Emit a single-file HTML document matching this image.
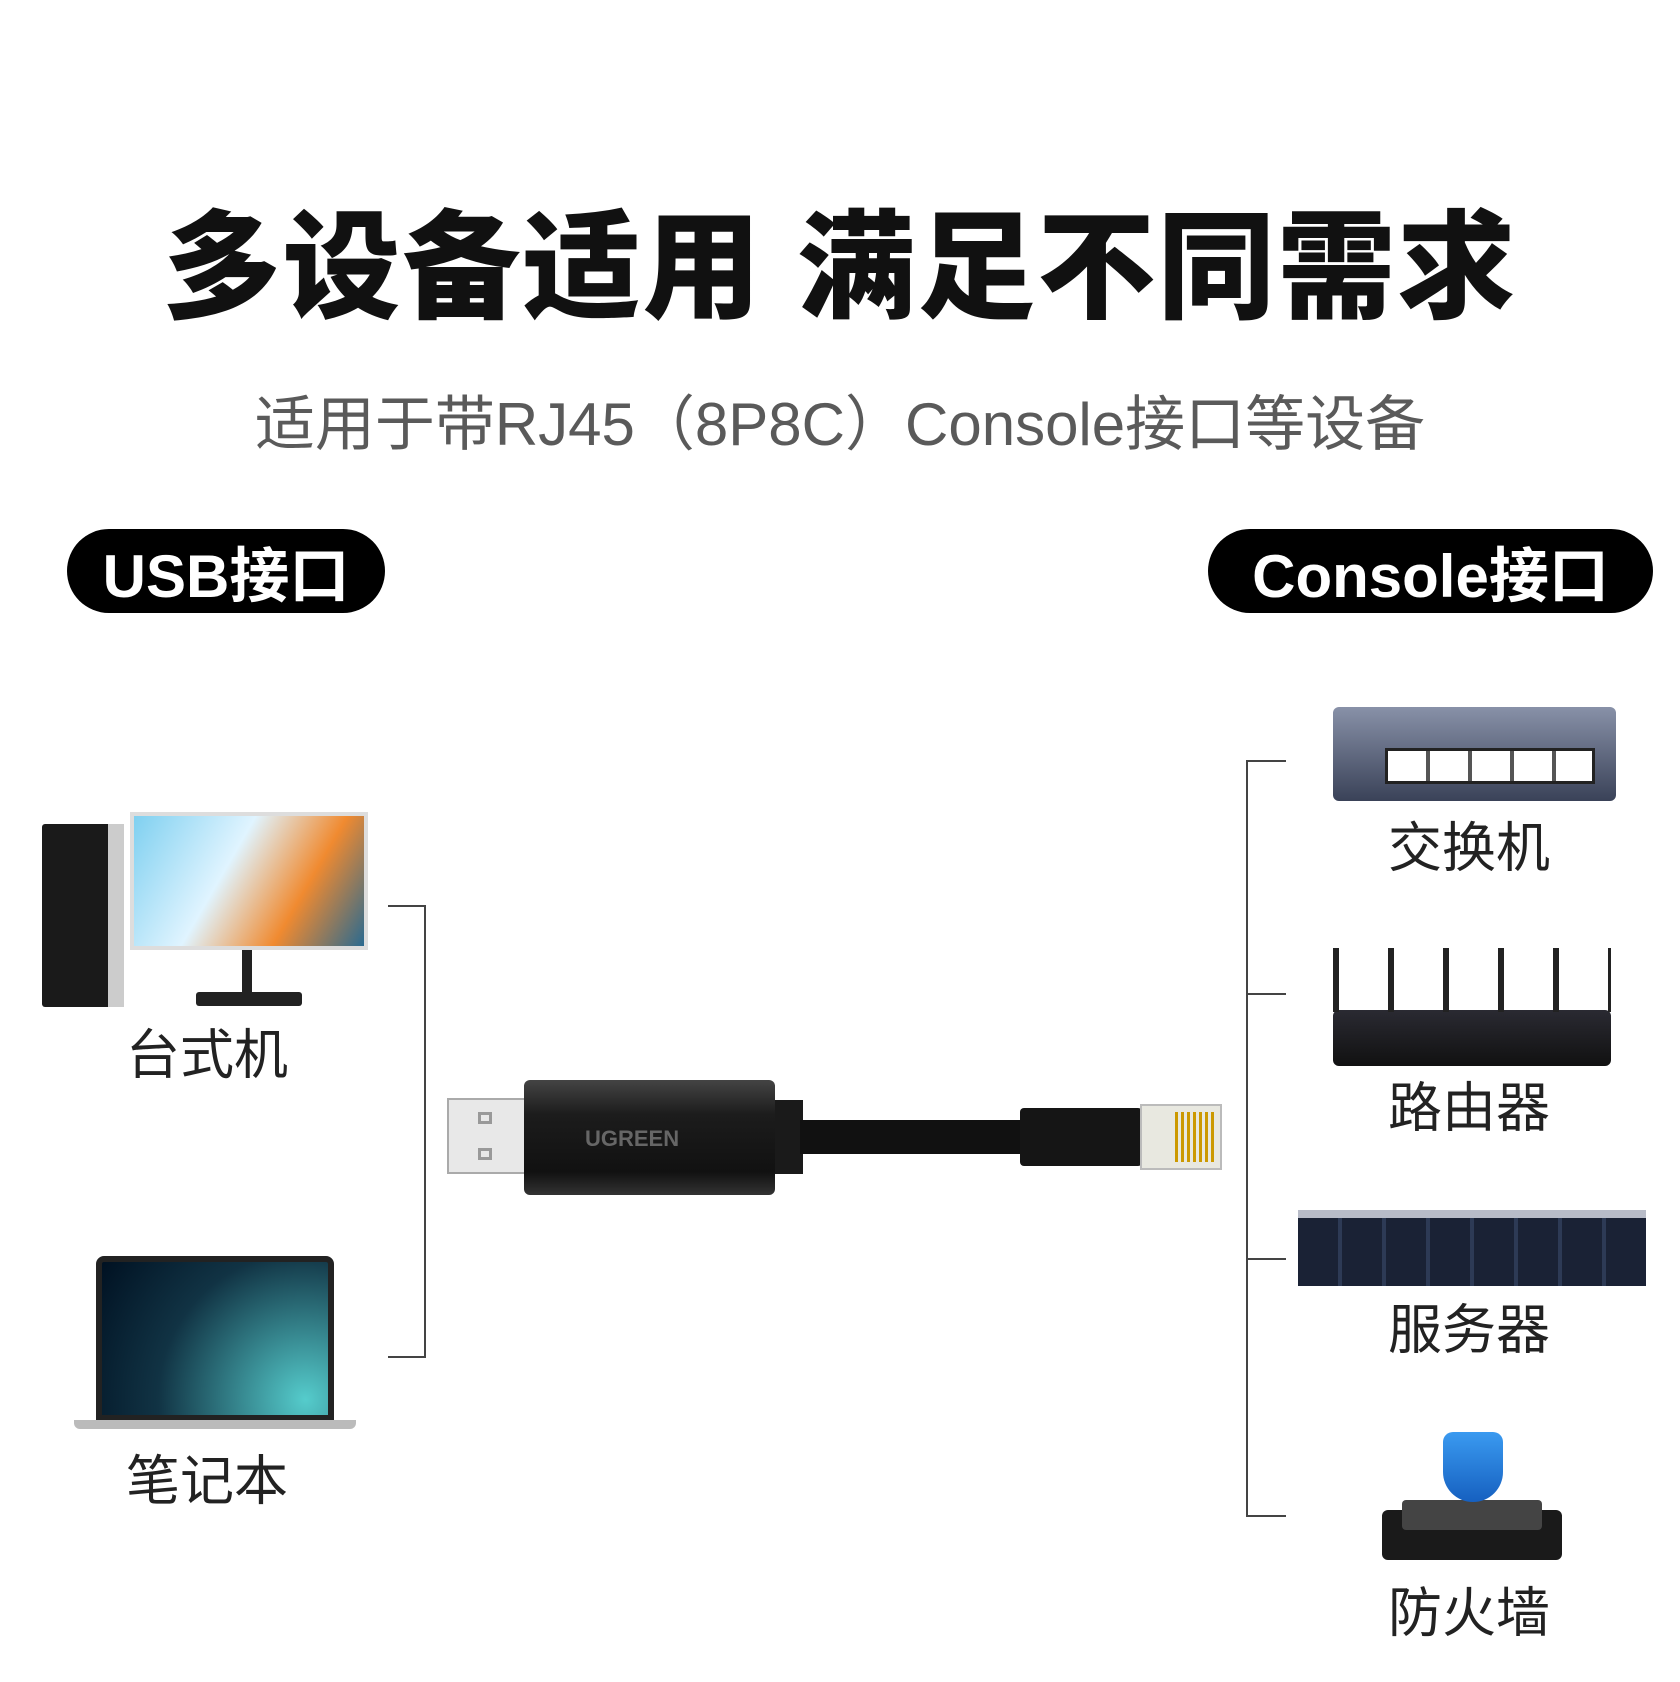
<!DOCTYPE html>
<html><head><meta charset="utf-8"><style>
*{margin:0;padding:0;box-sizing:border-box}
body{width:1680px;height:1682px;background:#fff;position:relative;overflow:hidden;font-family:"Liberation Sans","Noto Sans CJK SC",sans-serif}
.a{position:absolute}
.t{position:absolute;left:0;width:1680px;text-align:center}
.pill{position:absolute;background:#000;color:#fff;border-radius:42px;font-weight:bold;font-size:60px;display:flex;align-items:center;justify-content:center}
.lab{position:absolute;font-size:54px;color:#222;transform:translate(-50%,-50%);white-space:nowrap}
.ln{position:absolute;background:#444}
</style></head><body>
<div class="t" style="top:172px;font-size:118px;font-weight:900;color:#111;letter-spacing:2px">多设备适用 满足不同需求</div>
<div class="t" style="top:376px;font-size:60px;color:#5a5a5a">适用于带RJ45（8P8C）Console接口等设备</div>
<div class="pill" style="left:67px;top:529px;width:318px;height:84px">USB接口</div>
<div class="pill" style="left:1208px;top:529px;width:445px;height:84px">Console接口</div>

<div class="ln" style="left:424px;top:905px;width:2px;height:453px"></div>
<div class="ln" style="left:388px;top:905px;width:38px;height:2px"></div>
<div class="ln" style="left:388px;top:1356px;width:38px;height:2px"></div>
<div class="ln" style="left:1246px;top:760px;width:2px;height:757px"></div>
<div class="ln" style="left:1246px;top:760px;width:40px;height:2px"></div>
<div class="ln" style="left:1246px;top:993px;width:40px;height:2px"></div>
<div class="ln" style="left:1246px;top:1258px;width:40px;height:2px"></div>
<div class="ln" style="left:1246px;top:1515px;width:40px;height:2px"></div>

<div class="a" style="left:42px;top:824px;width:82px;height:183px;background:#1a1a1a;border-radius:3px"></div>
<div class="a" style="left:108px;top:824px;width:16px;height:183px;background:#ccc"></div>
<div class="a" style="left:130px;top:812px;width:238px;height:138px;background:linear-gradient(120deg,#7fd0f0,#e0f4ff 40%,#f08a30 70%,#2a6a90);border:4px solid #ddd"></div>
<div class="a" style="left:242px;top:950px;width:10px;height:42px;background:#222"></div>
<div class="a" style="left:196px;top:992px;width:106px;height:14px;background:#222;border-radius:3px"></div>
<div class="lab" style="left:207px;top:1050px">台式机</div>

<div class="a" style="left:96px;top:1256px;width:238px;height:165px;background:radial-gradient(circle at 90% 90%,#5cc,#134 60%,#012);border:6px solid #222;border-radius:8px 8px 0 0"></div>
<div class="a" style="left:74px;top:1420px;width:282px;height:9px;background:#bbb;border-radius:0 0 6px 6px"></div>
<div class="lab" style="left:207px;top:1476px">笔记本</div>

<div class="a" style="left:447px;top:1098px;width:80px;height:76px;background:#e8e8e8;border:2px solid #aaa"></div>
<div class="a" style="left:478px;top:1112px;width:14px;height:12px;border:3px solid #999"></div>
<div class="a" style="left:478px;top:1148px;width:14px;height:12px;border:3px solid #999"></div>
<div class="a" style="left:524px;top:1080px;width:251px;height:115px;background:linear-gradient(#444,#1c1c1c 30%,#111 80%,#333);border-radius:6px"></div>
<div class="a" style="left:585px;top:1126px;font-size:22px;font-weight:bold;color:#666">UGREEN</div>
<div class="a" style="left:775px;top:1100px;width:28px;height:74px;background:#1a1a1a"></div>
<div class="a" style="left:800px;top:1120px;width:225px;height:34px;background:#111"></div>
<div class="a" style="left:1020px;top:1108px;width:122px;height:58px;background:#151515;border-radius:4px"></div>
<div class="a" style="left:1140px;top:1104px;width:82px;height:66px;background:#e8e8e0;border:2px solid #bbb"></div>
<div class="a" style="left:1175px;top:1112px;width:40px;height:50px;background:repeating-linear-gradient(90deg,#c90 0 3px,transparent 3px 6px)"></div>

<div class="a" style="left:1333px;top:707px;width:283px;height:94px;background:linear-gradient(#8891a8,#3a4258);border-radius:6px"></div>
<div class="a" style="left:1385px;top:748px;width:210px;height:36px;background:repeating-linear-gradient(90deg,#fff 0 38px,#555 38px 42px);border:3px solid #222"></div>
<div class="lab" style="left:1469px;top:843px">交换机</div>

<div class="a" style="left:1333px;top:1010px;width:278px;height:56px;background:linear-gradient(#2a2a32,#111);border-radius:6px"></div>
<div class="a" style="left:1333px;top:948px;width:278px;height:64px;background:repeating-linear-gradient(90deg,#222 0 6px,transparent 6px 55px)"></div>
<div class="lab" style="left:1469px;top:1103px">路由器</div>

<div class="a" style="left:1298px;top:1210px;width:348px;height:76px;background:repeating-linear-gradient(90deg,#1a2235 0 40px,#2d3a55 40px 44px);border-top:8px solid #b8bcc8"></div>
<div class="lab" style="left:1469px;top:1325px">服务器</div>

<div class="a" style="left:1382px;top:1510px;width:180px;height:50px;background:#1a1a1a;border-radius:6px"></div>
<div class="a" style="left:1402px;top:1500px;width:140px;height:30px;background:#444;border-radius:4px"></div>
<div class="a" style="left:1443px;top:1432px;width:60px;height:70px;background:linear-gradient(#3a9af0,#1660c0);border-radius:10px 10px 30px 30px"></div>
<div class="lab" style="left:1469px;top:1608px">防火墙</div>
</body></html>
